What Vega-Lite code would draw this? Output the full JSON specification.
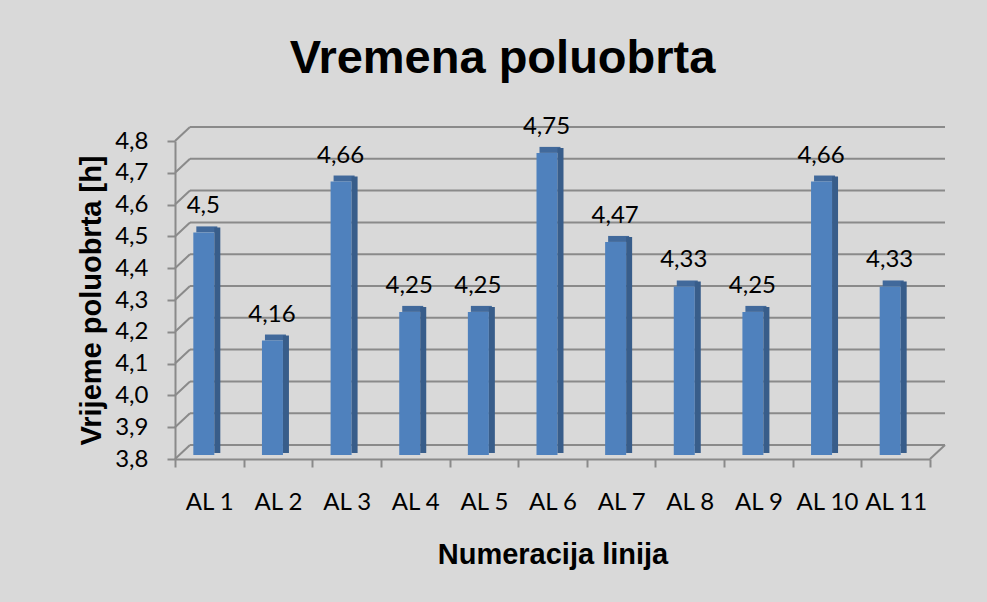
{
  "$schema": "https://vega.github.io/schema/vega-lite/v6.json",
  "width": 755,
  "height": 318,
  "autosize": "none",
  "padding": {"left": 175, "top": 141, "right": 57, "bottom": 143},
  "background": "#d9d9d9",
  "config": {
    "view": {"stroke": null},
    "locale": {"number": {"decimal": ",", "thousands": ".", "grouping": [3], "currency": ["", ""]}},
    "axisY": {
      "grid": false,
      "tickCount": 10,
      "domainColor": "#8a8a8a", "domainWidth": 2,
      "tickColor": "#8a8a8a", "tickWidth": 2, "tickSize": 8,
      "labelPadding": 19, "labelFont": "Lato", "labelFontSize": 24, "labelColor": "#000000",
      "labelOverlap": false,
      "titleFont": "Liberation Sans", "titleFontSize": 29, "titleFontWeight": "bold", "titleColor": "#000000",
      "titlePadding": 8
    }
  },
  "title": {
    "text": "Vremena poluobrta",
    "font": "Liberation Sans", "fontSize": 47, "fontWeight": "bold", "color": "#000000",
    "anchor": "middle", "dx": -50, "offset": 32
  },
  "datasets": {
    "bars": [
      {"linija": "AL 1", "vrijeme": 4.5},
      {"linija": "AL 2", "vrijeme": 4.16},
      {"linija": "AL 3", "vrijeme": 4.66},
      {"linija": "AL 4", "vrijeme": 4.25},
      {"linija": "AL 5", "vrijeme": 4.25},
      {"linija": "AL 6", "vrijeme": 4.75},
      {"linija": "AL 7", "vrijeme": 4.47},
      {"linija": "AL 8", "vrijeme": 4.33},
      {"linija": "AL 9", "vrijeme": 4.25},
      {"linija": "AL 10", "vrijeme": 4.66},
      {"linija": "AL 11", "vrijeme": 4.33}
    ],
    "grid": [
      {"v": 3.8}, {"v": 3.9}, {"v": 4.0}, {"v": 4.1}, {"v": 4.2}, {"v": 4.3},
      {"v": 4.4}, {"v": 4.5}, {"v": 4.6}, {"v": 4.7}, {"v": 4.8}
    ]
  },
  "layer": [
    {
      "layer": [
        {
          "data": {"name": "grid"},
          "mark": {"type": "rule", "color": "#8a8a8a", "strokeWidth": 2, "xOffset": 15, "x2Offset": 15, "yOffset": -14},
          "encoding": {
            "x": {"datum": 0, "type": "quantitative", "scale": {"domain": [0, 1]}, "axis": null},
            "x2": {"datum": 1},
            "y": {"field": "v", "type": "quantitative", "title": "Vrijeme poluobrta [h]", "scale": {"domain": [3.8, 4.8], "nice": false, "zero": false}}
          }
        },
        {
          "data": {"name": "grid"},
          "mark": {"type": "rule", "color": "#8a8a8a", "strokeWidth": 2, "x2Offset": 15, "y2Offset": -14},
          "encoding": {
            "x": {"datum": 0, "type": "quantitative", "scale": {"domain": [0, 1]}, "axis": null},
            "x2": {"datum": 0},
            "y": {"field": "v", "type": "quantitative", "title": "Vrijeme poluobrta [h]", "scale": {"domain": [3.8, 4.8], "nice": false, "zero": false}},
            "y2": {"field": "v"}
          }
        },
        {
          "data": {"values": [{"v": 3.8}]},
          "mark": {"type": "rule", "color": "#8a8a8a", "strokeWidth": 2, "x2Offset": 15, "y2Offset": -14},
          "encoding": {
            "x": {"datum": 1, "type": "quantitative", "scale": {"domain": [0, 1]}, "axis": null},
            "x2": {"datum": 1},
            "y": {"field": "v", "type": "quantitative", "title": "Vrijeme poluobrta [h]", "scale": {"domain": [3.8, 4.8], "nice": false, "zero": false}},
            "y2": {"field": "v"}
          }
        }
      ]
    },
    {
      "data": {"name": "bars"},
      "layer": [
        {
          "mark": {"type": "bar", "width": 21, "xOffset": -2.5, "yOffset": -10, "y2Offset": -4, "color": "#41699b"},
          "encoding": {
            "x": {
              "field": "linija", "type": "nominal", "sort": null,
              "scale": {"paddingInner": 0, "paddingOuter": 0},
              "axis": {
                "title": "Numeracija linija",
                "labelAngle": 0, "tickBand": "extent",
                "domainColor": "#8a8a8a", "domainWidth": 2,
                "tickColor": "#8a8a8a", "tickWidth": 2, "tickSize": 8,
                "labelPadding": 23, "labelFont": "Lato", "labelFontSize": 24, "labelColor": "#000000",
                "labelOverlap": false,
                "titleFont": "Liberation Sans", "titleFontSize": 29, "titleFontWeight": "bold", "titleColor": "#000000",
                "titlePadding": 26
              }
            },
            "y": {"field": "vrijeme", "type": "quantitative", "title": "Vrijeme poluobrta [h]", "scale": {"domain": [3.8, 4.8], "nice": false, "zero": false}},
            "y2": {"field": "vrijeme"}
          }
        },
        {
          "mark": {"type": "bar", "width": 21, "xOffset": -5.5, "yOffset": -4, "y2Offset": -4, "color": "#4f81bd"},
          "encoding": {
            "x": {"field": "linija", "type": "nominal", "sort": null},
            "y": {"field": "vrijeme", "type": "quantitative", "title": "Vrijeme poluobrta [h]", "scale": {"domain": [3.8, 4.8], "nice": false, "zero": false}},
            "y2": {"datum": 3.8}
          }
        },
        {
          "mark": {"type": "bar", "width": 6, "xOffset": 8, "yOffset": -9, "y2Offset": -6, "color": "#385d8a"},
          "encoding": {
            "x": {"field": "linija", "type": "nominal", "sort": null},
            "y": {"field": "vrijeme", "type": "quantitative", "title": "Vrijeme poluobrta [h]", "scale": {"domain": [3.8, 4.8], "nice": false, "zero": false}},
            "y2": {"datum": 3.8}
          }
        },
        {
          "mark": {"type": "text", "font": "Lato", "fontSize": 24, "color": "#000000", "baseline": "alphabetic", "dy": -23, "xOffset": -6},
          "encoding": {
            "x": {"field": "linija", "type": "nominal", "sort": null},
            "y": {"field": "vrijeme", "type": "quantitative", "title": "Vrijeme poluobrta [h]", "scale": {"domain": [3.8, 4.8], "nice": false, "zero": false}},
            "text": {"field": "vrijeme", "type": "quantitative", "format": ".2~f"}
          }
        }
      ]
    }
  ],
  "resolve": {"scale": {"x": "independent"}}
}
